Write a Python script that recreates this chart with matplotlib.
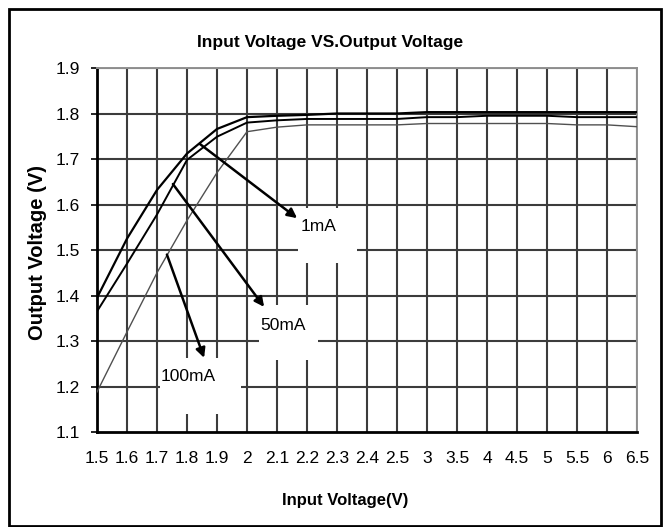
import matplotlib
matplotlib.use('Agg')
import matplotlib.pyplot as plt
from matplotlib import font_manager
from matplotlib.patches import Rectangle

# Data
vin_labels = ['1.5', '1.6', '1.7', '1.8', '1.9', '2', '2.1', '2.2', '2.3', '2.4', '2.5',
              '3', '3.5', '4', '4.5', '5', '5.5', '6', '6.5']
vout_1ma = [1.395, 1.525, 1.632, 1.712, 1.766, 1.792, 1.795, 1.797, 1.800, 1.800, 1.800,
            1.803, 1.803, 1.803, 1.803, 1.803, 1.803, 1.803, 1.803]
vout_50ma = [1.365, 1.470, 1.578, 1.698, 1.749, 1.780, 1.785, 1.788, 1.788, 1.788, 1.788,
             1.792, 1.792, 1.795, 1.795, 1.795, 1.792, 1.792, 1.792]
vout_100ma = [1.188, 1.320, 1.450, 1.565, 1.670, 1.760, 1.770, 1.775, 1.775, 1.775, 1.775,
              1.778, 1.778, 1.778, 1.778, 1.778, 1.775, 1.775, 1.771]
y_ticks = [1.1, 1.2, 1.3, 1.4, 1.5, 1.6, 1.7, 1.8, 1.9]

# Fonts (narrow Arial look if available)
names = {f.name for f in font_manager.fontManager.ttflist}
narrow = 'Liberation Sans Narrow' if 'Liberation Sans Narrow' in names else 'Liberation Sans'
plt.rcParams['font.family'] = [narrow, 'DejaVu Sans']

W, H = 663, 527
fig = plt.figure(figsize=(W / 100, H / 100), dpi=100)
ax = fig.add_axes([97 / W, 1 - 432 / H, (637 - 97) / W, (432 - 68) / H])

x = list(range(len(vin_labels)))

# grid
for xi in x[1:]:
    ax.axvline(xi, color='#3c3c3c', lw=1.5, zorder=1)
for yv in y_ticks[1:]:
    ax.axhline(yv, color='#3c3c3c', lw=1.5, zorder=1)

ax.plot(x, vout_1ma, color='black', lw=1.6, zorder=3)
ax.plot(x, vout_50ma, color='black', lw=1.4, zorder=3)
ax.plot(x, vout_100ma, color='#505050', lw=1.0, zorder=3)

ax.set_xlim(0, len(x) - 1)
ax.set_ylim(1.1, 1.9)
ax.set_xticks(x)
ax.set_xticklabels(vin_labels, fontsize=12.5)
ax.set_yticks(y_ticks)
ax.set_yticklabels([f'{v:.1f}' for v in y_ticks], fontsize=12.5)
ax.tick_params(axis='x', length=0, pad=14)
ax.tick_params(axis='y', length=4, width=1.2, direction='out', pad=8)

for s in ['left', 'bottom']:
    ax.spines[s].set_color('black')
    ax.spines[s].set_linewidth(2)
for s in ['top', 'right']:
    ax.spines[s].set_color('#909090')
    ax.spines[s].set_linewidth(1.4)

# label boxes and arrows
labels = [
    ('1mA', (6.70, 1.471, 1.97, 0.121), (7.37, 1.551), (6.67, 1.570), (3.43, 1.733)),
    ('50mA', (5.40, 1.258, 1.97, 0.121), (6.20, 1.335), (5.57, 1.375), (2.53, 1.645)),
    ('100mA', (2.10, 1.140, 2.70, 0.123), (3.03, 1.221), (3.57, 1.263), (2.33, 1.490)),
]
for txt, box, tpos, head, tail in labels:
    ax.add_patch(Rectangle(box[:2], box[2], box[3], facecolor='white',
                           edgecolor='none', zorder=2))
    ax.text(tpos[0], tpos[1], txt, fontsize=12.5, ha='center', va='center', zorder=4)
    ax.annotate('', xy=head, xytext=tail,
                arrowprops=dict(arrowstyle='-|>', color='black', lw=1.8,
                                mutation_scale=14, shrinkA=0, shrinkB=0),
                zorder=5)

fig.text(330 / W, 1 - 42 / H, 'Input Voltage VS.Output Voltage',
         fontsize=12.5, fontweight='bold', ha='center', va='center')
fig.text(345 / W, 1 - 500 / H, 'Input Voltage(V)',
         fontsize=12, fontweight='bold', ha='center', va='center')
fig.text(38 / W, 1 - 252 / H, 'Output Voltage (V)', family=['Liberation Sans', 'DejaVu Sans'],
         fontsize=14.5, fontweight='bold', ha='center', va='center', rotation=90)

# outer frame
fig.add_artist(Rectangle((9 / W, 1 / H), (661 - 9) / W, (518 - 1) / H,
                         transform=fig.transFigure, fill=False,
                         edgecolor='black', lw=2))

fig.savefig('out.png', dpi=100)
